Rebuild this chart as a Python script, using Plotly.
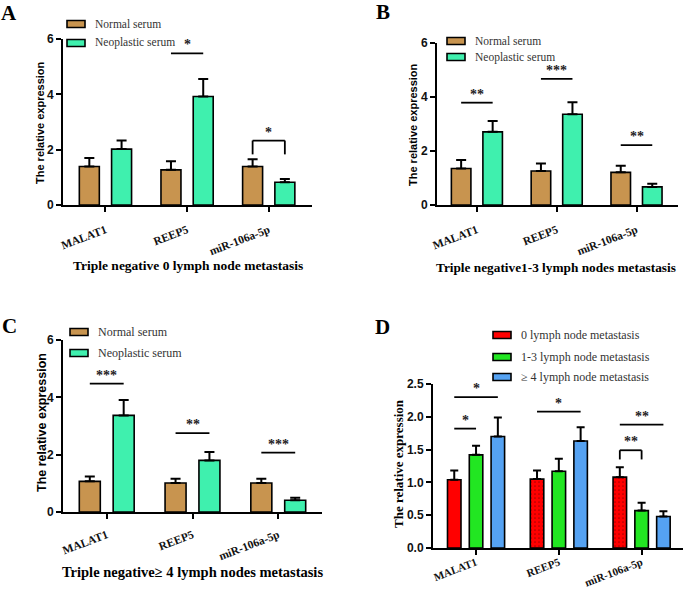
"""Relative expression of MALAT1, REEP5 and miR-106a-5p in serum, four panels."""

import plotly.graph_objects as go

genes = ["MALAT1", "REEP5", "miR-106a-5p"]

serum_names = ["Normal serum", "Neoplastic serum"]
node_names = [
    "0 lymph node metastasis",
    "1-3 lymph node metastasis",
    "≥ 4 lymph node metastasis",
]

# panel A: triple negative, 0 lymph node metastasis
a_normal = [1.39, 1.27, 1.39]
a_normal_err = [0.31, 0.31, 0.26]
a_neo = [2.02, 3.92, 0.82]
a_neo_err = [0.31, 0.63, 0.12]

# panel B: triple negative, 1-3 lymph nodes metastasis
b_normal = [1.35, 1.26, 1.21]
b_normal_err = [0.32, 0.28, 0.24]
b_neo = [2.71, 3.36, 0.67]
b_neo_err = [0.40, 0.45, 0.12]

# panel C: triple negative, >= 4 lymph nodes metastasis
c_normal = [1.07, 1.01, 1.01]
c_normal_err = [0.17, 0.15, 0.15]
c_neo = [3.37, 1.80, 0.41]
c_neo_err = [0.54, 0.29, 0.09]

# panel D: neoplastic serum by lymph node status
d_zero = [1.04, 1.05, 1.08]
d_zero_err = [0.14, 0.13, 0.15]
d_one_three = [1.42, 1.17, 0.57]
d_one_three_err = [0.14, 0.19, 0.12]
d_four = [1.70, 1.63, 0.48]
d_four_err = [0.29, 0.21, 0.08]

# significance marks: (gene index, left series, right series, height, label, bracket drop)
a_sig = [(1, 0, 1, 5.48, "*", 0), (2, 0, 1, 2.33, "*", 0.5)]
b_sig = [(0, 0, 1, 3.79, "**", 0), (1, 0, 1, 4.67, "***", 0), (2, 0, 1, 2.22, "**", 0)]
c_sig = [(0, 0, 1, 4.48, "***", 0), (1, 0, 1, 2.75, "**", 0), (2, 0, 1, 2.07, "***", 0)]
d_sig = [
    (0, 0, 1, 1.82, "*", 0),
    (0, 0, 2, 2.30, "*", 0),
    (1, 0, 2, 2.08, "*", 0),
    (2, 0, 1, 1.49, "**", 0.14),
    (2, 0, 2, 1.88, "**", 0),
]

W, H = 685, 590
SERIF = "Liberation Serif, Times New Roman, serif"
SANS = "Liberation Sans, Arial, sans-serif"
BARGAP = 0.21
GROUPGAP = 0.38

serum_colors = ["#C8944F", "#3FF0AE"]
node_colors = ["#FF0000", "#22E622", "#55A2F2"]

# pixel positions of each panel piece in the 685x590 picture
panels = [
    dict(
        key="", series=[(a_normal, a_normal_err), (a_neo, a_neo_err)],
        names=serum_names, colors=serum_colors, sig=a_sig,
        xdom=(63, 312), ydom=(205, 39),
        xrange=[-0.52, 2.53], yrange=[0, 6], ytick=[0, 2, 4, 6], yfmt="d",
        legend=dict(x=67, ys=[24, 43], size=11.5),
        letter=("A", 9, 13), ytitle=(40, 123, SANS, 11),
        title=("Triple negative 0 lymph node metastasis", 188, 265, 13.5),
        cap=5, standoff=7, tsize=11.5,
    ),
    dict(
        key="2", series=[(b_normal, b_normal_err), (b_neo, b_neo_err)],
        names=serum_names, colors=serum_colors, sig=b_sig,
        xdom=(437, 678), ydom=(205, 43),
        xrange=[-0.5, 2.52], yrange=[0, 6], ytick=[0, 2, 4, 6], yfmt="d",
        legend=dict(x=447, ys=[41, 57], size=11.5),
        letter=("B", 383, 12), ytitle=(413, 124, SANS, 11),
        title=("Triple negative1-3 lymph nodes metastasis", 556, 267, 13.3),
        cap=5, standoff=7, tsize=11.5,
    ),
    dict(
        key="3", series=[(c_normal, c_normal_err), (c_neo, c_neo_err)],
        names=serum_names, colors=serum_colors, sig=c_sig,
        xdom=(63, 322), ydom=(512, 340),
        xrange=[-0.51, 2.51], yrange=[0, 6], ytick=[0, 2, 4, 6], yfmt="d",
        legend=dict(x=70, ys=[332, 353], size=12),
        letter=("C", 9, 326), ytitle=(42, 423, SANS, 12.5),
        title=("Triple negative≥ 4 lymph nodes metastasis", 192, 572, 14.5),
        cap=5, standoff=5, tsize=11.5,
    ),
    dict(
        key="4", series=[(d_zero, d_zero_err), (d_one_three, d_one_three_err), (d_four, d_four_err)],
        names=node_names, colors=node_colors, sig=d_sig,
        xdom=(433, 683), ydom=(548, 384),
        xrange=[-0.52, 2.5], yrange=[0, 2.5], ytick=[0, 0.5, 1, 1.5, 2, 2.5], yfmt=".1f",
        legend=dict(x=493, ys=[335, 357, 377], size=12),
        letter=("D", 382, 327), ytitle=(398, 464, SERIF, 13),
        title=None,
        cap=4, standoff=-3, tsize=11,
    ),
]


def px_x(x):
    return x / W


def px_y(y):
    return 1 - y / H


def bar_offset(k, n):
    """Centre of series k inside a group of n bars, in category units."""
    slot = (1 - BARGAP) / n
    return (k - (n - 1) / 2) * slot


fig = go.Figure()
annotations = []
shapes = []
axes = {}

for p in panels:
    key = p["key"]
    n = len(p["series"])
    for k, ((vals, errs), name, color) in enumerate(zip(p["series"], p["names"], p["colors"])):
        marker = dict(color=color, line=dict(color="black", width=1.6))
        if key == "4" and k == 0:
            marker["pattern"] = dict(
                shape=["", ".", "."], fgcolor="#5A0000", size=4, solidity=0.15
            )
        fig.add_trace(
            go.Bar(
                x=genes,
                y=vals,
                name=name,
                marker=marker,
                error_y=dict(
                    type="data", array=errs, arrayminus=[0] * len(errs),
                    symmetric=False, color="black", thickness=2, width=p["cap"],
                ),
                xaxis="x" + key,
                yaxis="y" + key,
                showlegend=False,
            )
        )

        # legend entry: wide swatch plus label
        lg = p["legend"]
        yc = lg["ys"][k]
        shapes.append(dict(
            type="rect", xref="paper", yref="paper",
            x0=px_x(lg["x"]), x1=px_x(lg["x"] + 18),
            y0=px_y(yc + 3.5), y1=px_y(yc - 3.5),
            fillcolor=color, line=dict(color="black", width=1.6),
        ))
        annotations.append(dict(
            x=px_x(lg["x"] + 26), y=px_y(yc), xref="paper", yref="paper",
            text=name, showarrow=False, xanchor="left", yanchor="middle",
            font=dict(family=SERIF, size=lg["size"], color="#333333"),
        ))

    axes["xaxis" + key] = dict(
        domain=[px_x(p["xdom"][0]), px_x(p["xdom"][1])], range=p["xrange"],
        anchor="y" + key, type="category",
        showline=True, linecolor="black", linewidth=2, ticks="outside",
        ticklen=5, tickwidth=2, tickcolor="black", tickangle=-21,
        ticklabelstandoff=p["standoff"],
        tickfont=dict(family=SERIF, size=p["tsize"], color="#111111", weight="bold"),
        showgrid=False, zeroline=False,
    )
    axes["yaxis" + key] = dict(
        domain=[px_y(p["ydom"][0]), px_y(p["ydom"][1])], range=p["yrange"],
        anchor="x" + key,
        showline=True, linecolor="black", linewidth=2, ticks="outside",
        ticklen=5, tickwidth=2, tickcolor="black", tickvals=p["ytick"],
        tickformat=p["yfmt"],
        tickfont=dict(family=SANS, size=12, color="#111111", weight="bold"),
        showgrid=False, zeroline=False,
    )

    # significance lines, brackets and stars
    for gene, left, right, level, label, drop in p["sig"]:
        x0 = gene + bar_offset(left, n)
        x1 = gene + bar_offset(right, n)
        line = dict(color="black", width=1.8)
        shapes.append(dict(
            type="line", xref="x" + key, yref="y" + key,
            x0=x0, x1=x1, y0=level, y1=level, line=line,
        ))
        if drop:
            for xx in (x0, x1):
                shapes.append(dict(
                    type="line", xref="x" + key, yref="y" + key,
                    x0=xx, x1=xx, y0=level, y1=level - drop, line=line,
                ))
        annotations.append(dict(
            x=(x0 + x1) / 2, y=level, xref="x" + key, yref="y" + key,
            text=label, showarrow=False, xanchor="center", yanchor="bottom", yshift=-1,
            font=dict(family=SERIF, size=14, color="#222222", weight="bold"),
        ))

    letter, lx, ly = p["letter"]
    annotations.append(dict(
        x=px_x(lx), y=px_y(ly), xref="paper", yref="paper", text=letter,
        showarrow=False, xanchor="center", yanchor="middle",
        font=dict(family=SERIF, size=21, color="black", weight="bold"),
    ))

    tx, ty, tfam, tsize = p["ytitle"]
    annotations.append(dict(
        x=px_x(tx), y=px_y(ty), xref="paper", yref="paper",
        text="The relative expression", textangle=-90, showarrow=False,
        xanchor="center", yanchor="middle",
        font=dict(family=tfam, size=tsize, color="black", weight="bold"),
    ))

    if p["title"]:
        text, bx, by, bsize = p["title"]
        annotations.append(dict(
            x=px_x(bx), y=px_y(by), xref="paper", yref="paper", text=text,
            showarrow=False, xanchor="center", yanchor="middle",
            font=dict(family=SERIF, size=bsize, color="black", weight="bold"),
        ))

fig.update_layout(
    width=W,
    height=H,
    margin=dict(l=0, r=0, t=0, b=0, autoexpand=False),
    paper_bgcolor="white",
    plot_bgcolor="white",
    barmode="group",
    bargap=BARGAP,
    bargroupgap=GROUPGAP,
    showlegend=False,
    annotations=annotations,
    shapes=shapes,
    **axes,
)

# the page body has a default 8px margin; drop it so the figure sits at 0,0
fig.write_html(
    "out.html",
    config={"displayModeBar": False},
    post_script="document.body.style.margin = '0';",
)
